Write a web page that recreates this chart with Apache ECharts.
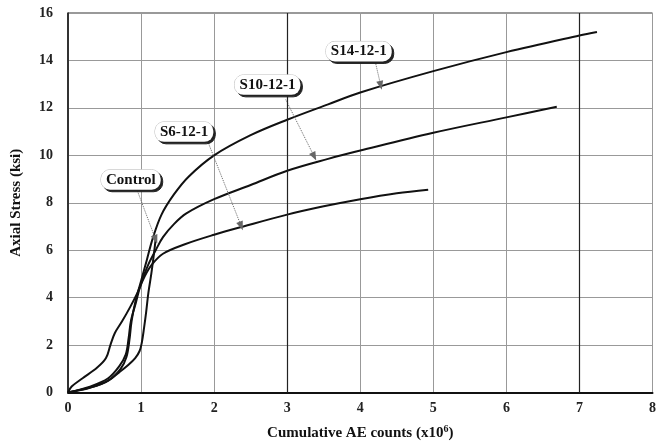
<!DOCTYPE html>
<html>
<head>
<meta charset="utf-8">
<script src="https://cdn.jsdelivr.net/npm/echarts@6/dist/echarts.min.js"></script>
<style>
  html, body { margin: 0; padding: 0; background: #fff; }
</style>
</head>
<body>
<div id="chart" style="width:659px;height:446px"></div>
<script>
// tick values
const xTicks = [0, 1, 2, 3, 4, 5, 6, 7, 8];
const yTicks = [0, 2, 4, 6, 8, 10, 12, 14, 16];

// series names
const names = ["Control", "S6-12-1", "S10-12-1", "S14-12-1"];

// [AE counts (x10^6), axial stress (ksi)]
const control = [
  [0, 0], [0.15, 0.1], [0.35, 0.25], [0.55, 0.5], [0.7, 0.85], [0.82, 1.15],
  [0.92, 1.45], [0.98, 1.75], [1.01, 2.1], [1.04, 2.7], [1.07, 3.4],
  [1.1, 4.2], [1.14, 5.0], [1.17, 5.7], [1.19, 6.2], [1.2, 6.5]
];
const s6 = [
  [0, 0], [0.05, 0.25], [0.2, 0.6], [0.4, 1.05], [0.52, 1.45], [0.58, 2.0],
  [0.64, 2.5], [0.74, 3.0], [0.85, 3.6], [0.95, 4.2], [1.05, 4.9],
  [1.15, 5.4], [1.3, 5.85], [1.6, 6.25], [2.0, 6.65], [2.4, 7.0],
  [3.0, 7.5], [3.5, 7.85], [4.0, 8.15], [4.5, 8.4], [4.93, 8.55]
];
const s10 = [
  [0, 0], [0.3, 0.25], [0.55, 0.6], [0.7, 1.1], [0.79, 1.6], [0.83, 2.3],
  [0.86, 3.0], [0.93, 3.8], [1.0, 4.6], [1.1, 5.4], [1.2, 6.0], [1.3, 6.55],
  [1.45, 7.1], [1.62, 7.55], [2.0, 8.15], [2.5, 8.75], [3.0, 9.35],
  [3.56, 9.85], [4.0, 10.2], [5.0, 10.95], [6.0, 11.6], [6.69, 12.05]
];
const s14 = [
  [0, 0], [0.3, 0.2], [0.55, 0.5], [0.72, 1.0], [0.8, 1.5], [0.84, 2.2],
  [0.87, 3.0], [0.92, 3.8], [1.0, 4.7], [1.08, 5.6], [1.16, 6.5],
  [1.28, 7.5], [1.45, 8.35], [1.65, 9.1], [2.0, 10.0], [2.5, 10.85],
  [3.0, 11.5], [3.56, 12.15], [4.0, 12.65], [5.0, 13.55], [6.0, 14.35],
  [7.0, 15.05], [7.24, 15.2]
];
const seriesData = [control, s6, s10, s14];

// callout labels: where the box sits and where the dotted arrow goes
const labelAt = [[0.86, 8.97], [1.59, 10.99], [2.73, 12.97], [3.98, 14.38]];
const arrowFrom = [[0.95, 8.5], [1.93, 10.45], [2.98, 12.35], [4.2, 14.02]];
const arrowTo = [[1.2, 6.45], [2.37, 7.02], [3.37, 9.95], [4.28, 12.95]];

const serif = "Liberation Serif";

let chart = echarts.init(document.getElementById("chart"));

let series = names.map((name, i) => ({
  name: name,
  type: "line",
  data: seriesData[i],
  showSymbol: false,
  smooth: 0.35,
  lineStyle: { color: "#111", width: 2 },
  z: 3,
  // dotted pointer from the callout to the curve
  markLine: {
    silent: true,
    symbol: ["none", "triangle"],
    symbolSize: [7, 9],
    label: { show: false },
    lineStyle: { color: "#666", width: 1, type: "dotted" },
    data: [[{ coord: arrowFrom[i] }, { coord: arrowTo[i] }]]
  },
  // rounded callout box with the specimen name
  markPoint: {
    silent: true,
    symbol: "circle",
    symbolSize: 1,
    itemStyle: { color: "rgba(0,0,0,0)" },
    label: {
      show: true,
      position: "inside",
      formatter: name,
      fontFamily: serif,
      fontWeight: "bold",
      fontSize: 15,
      color: "#111",
      backgroundColor: "#fff",
      borderColor: "#bbb",
      borderWidth: 0.5,
      borderRadius: 9,
      padding: [3, 5, 2, 5],
      shadowColor: "#222",
      shadowOffsetX: 2,
      shadowOffsetY: 2,
      shadowBlur: 0
    },
    data: [{ coord: labelAt[i] }]
  }
}));

// the darker vertical rules at 3 and 7 in the scan
series.push({
  type: "line",
  data: [],
  markLine: {
    silent: true,
    symbol: "none",
    label: { show: false },
    lineStyle: { color: "#222", width: 1.2, type: "solid" },
    data: [{ xAxis: 3 }, { xAxis: 7 }]
  }
});

chart.setOption({
  animation: false,
  grid: {
    left: 68,
    right: 3,
    top: 13,
    bottom: 53,
    show: true,
    borderColor: "#333",
    borderWidth: 1
  },
  xAxis: {
    type: "value",
    min: xTicks[0],
    max: xTicks[xTicks.length - 1],
    interval: 1,
    name: "Cumulative AE counts (x10{sup|6})",
    nameLocation: "middle",
    nameGap: 32,
    nameTextStyle: {
      fontFamily: serif,
      fontWeight: "bold",
      fontSize: 15,
      color: "#111",
      rich: {
        sup: { fontFamily: serif, fontWeight: "bold", fontSize: 10, verticalAlign: "top", padding: [0, 0, 8, 0], color: "#111" }
      }
    },
    axisLine: { show: true, lineStyle: { color: "#111", width: 2 } },
    axisTick: { show: false },
    axisLabel: {
      margin: 9,
      fontFamily: serif,
      fontWeight: "bold",
      fontSize: 14,
      color: "#222"
    },
    splitLine: { show: true, lineStyle: { color: "#999", width: 1 } }
  },
  yAxis: {
    type: "value",
    min: yTicks[0],
    max: yTicks[yTicks.length - 1],
    interval: 2,
    name: "Axial Stress (ksi)",
    nameLocation: "middle",
    nameGap: 44,
    nameTextStyle: {
      fontFamily: serif,
      fontWeight: "bold",
      fontSize: 15,
      color: "#111"
    },
    axisLine: { show: true, lineStyle: { color: "#111", width: 1.5 } },
    axisTick: { show: false },
    axisLabel: {
      margin: 15,
      fontFamily: serif,
      fontWeight: "bold",
      fontSize: 14,
      color: "#222"
    },
    splitLine: { show: true, lineStyle: { color: "#999", width: 1 } }
  },
  series: series
});
</script>
</body>
</html>
